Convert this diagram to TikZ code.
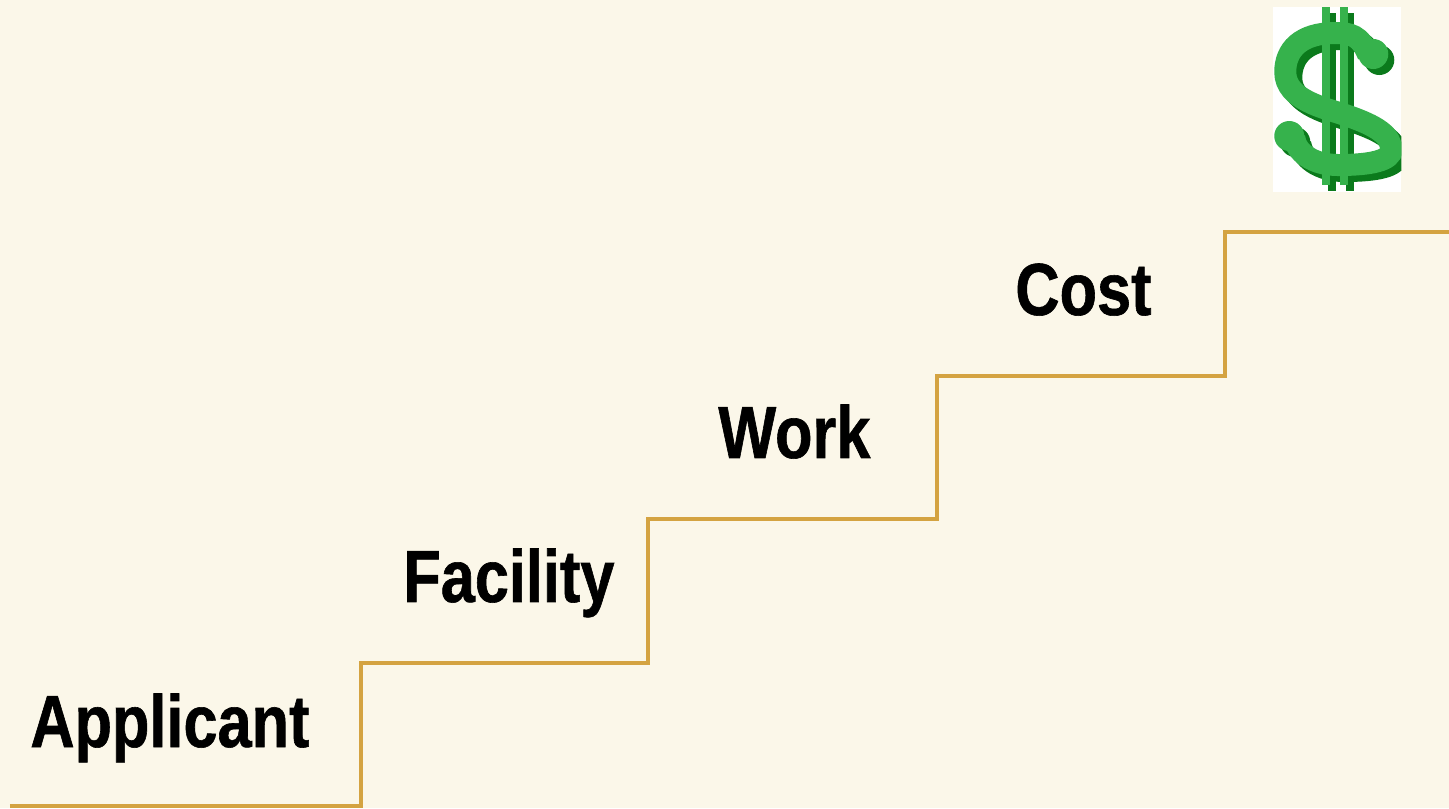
\documentclass[tikz,border=0pt]{standalone}
\usepackage{fontspec}
\newfontfamily\stepfont{Liberation Sans Bold}[FakeStretch=0.83,FakeBold=0.8]
\usepackage{tikz}
\usetikzlibrary{calc}
\definecolor{cream}{HTML}{FBF7E9}
\definecolor{stairgold}{HTML}{D4A341}
\definecolor{dollargreen}{HTML}{36B24C}
\definecolor{dollardark}{HTML}{0B7A1C}
\tikzset{
    steplabel/.style={anchor=base west,inner sep=0pt,font=\stepfont\fontsize{42}{48}\selectfont},
    stairline/.style={draw=stairgold,line width=2.3pt,line join=miter},
    pics/dollarsign/.style={code={
        \draw[line width=0.44cm,draw=#1](1368,55) .. controls (1360,35) and (1350,33) .. (1335,33)
            .. controls (1300,33) and (1285,50) .. (1285,72)
            .. controls (1285,100) and (1325,108) .. (1345,115)
            .. controls (1378,126) and (1391,136) .. (1391,150)
            .. controls (1391,160) and (1372,165) .. (1338,165)
            .. controls (1312,165) and (1296,152) .. (1294,138);
        \fill[#1](1373,54)circle(15);
        \fill[#1](1289,136)circle(15);
        \fill[#1](1322,7)rectangle(1330,185);
        \fill[#1](1340,7)rectangle(1348,185);
    }}
}
\begin{document}
\begin{tikzpicture}
    \useasboundingbox[fill=cream](0,0)rectangle(28.98,16.16);
    \coordinate(S0) at (0.20,0.04);
    \coordinate(S1) at (7.22,0.04);
    \coordinate(S2) at (7.22,2.90);
    \coordinate(S3) at (12.96,2.90);
    \coordinate(S4) at (12.96,5.78);
    \coordinate(S5) at (18.74,5.78);
    \coordinate(S6) at (18.74,8.64);
    \coordinate(S7) at (24.50,8.64);
    \coordinate(S8) at (24.50,11.52);
    \coordinate(S9) at (28.98,11.52);
    \draw[stairline](S0)--(S1)--(S2)--(S3)--(S4)--(S5)--(S6)--(S7)--(S8)--(S9);
    \node[steplabel](applicant) at (0.60,1.22){Applicant};
    \node[steplabel](facility) at (8.06,4.12){Facility};
    \node[steplabel](work) at (14.36,7.00){Work};
    \node[steplabel](cost) at (20.30,9.86){Cost};
    % dollar sign picture, in pixel units of the slide
    \fill[white](25.46,12.32)rectangle(28.02,16.02);
    \begin{scope}[shift={(0,16.16)},x=0.02cm,y=-0.02cm]
    \begin{scope}\clip(1273,7)rectangle(1401,191);
    \pic at (6,6){dollarsign=dollardark};
    \pic at (0,0){dollarsign=dollargreen};
    \end{scope}
    \end{scope}
\end{tikzpicture}
\end{document}
